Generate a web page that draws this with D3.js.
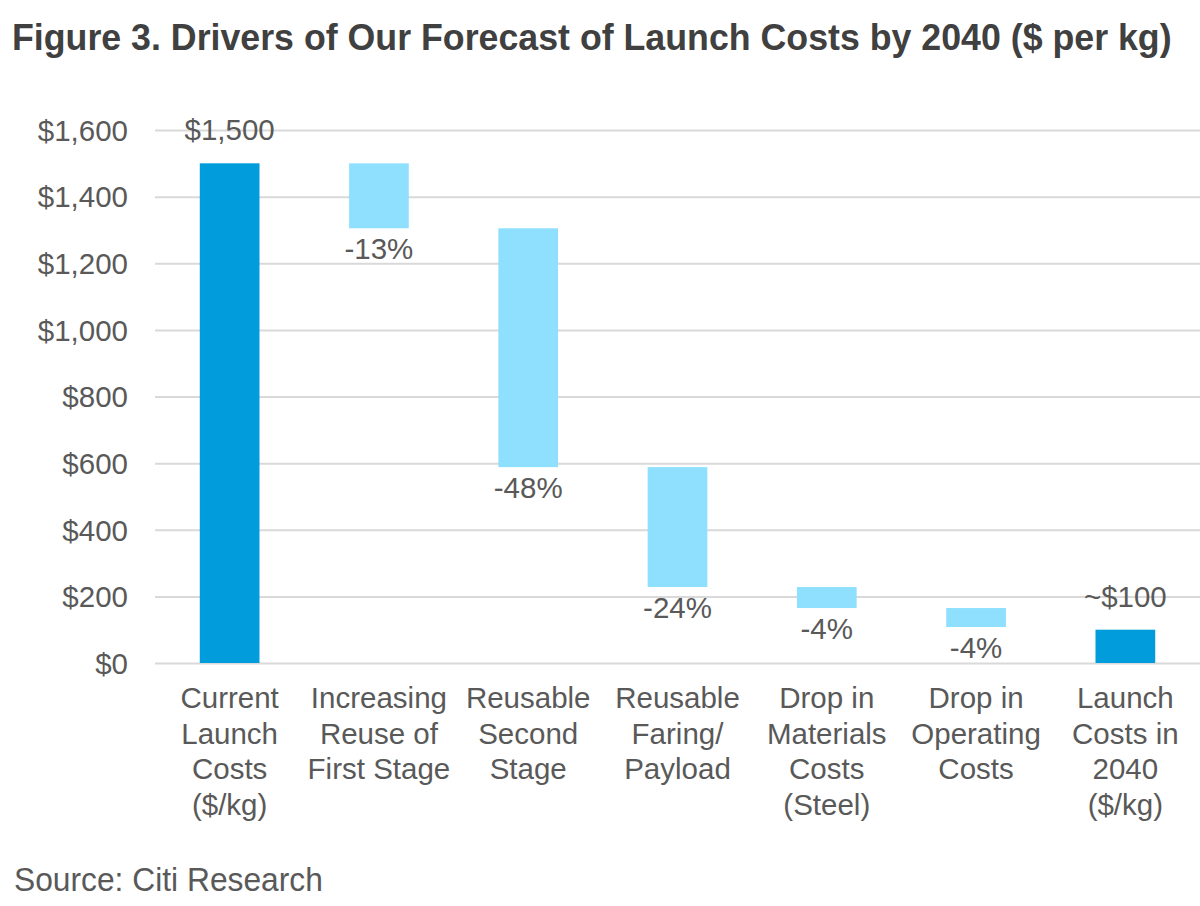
<!DOCTYPE html>
<html>
<head>
<meta charset="utf-8">
<script src="https://cdn.jsdelivr.net/npm/d3@7"></script>
<style>
  html, body { margin: 0; padding: 0; background: #fff; }
  svg { display: block; }
</style>
</head>
<body>
<svg id="chart" width="1200" height="906"></svg>
<script>
// ---- data ----
const categories = [
  ["Current", "Launch", "Costs", "($/kg)"],
  ["Increasing", "Reuse of", "First Stage"],
  ["Reusable", "Second", "Stage"],
  ["Reusable", "Faring/", "Payload"],
  ["Drop in", "Materials", "Costs", "(Steel)"],
  ["Drop in", "Operating", "Costs"],
  ["Launch", "Costs in", "2040", "($/kg)"]
];
const barHigh = [1500, 1500, 1305, 588, 228, 165, 100];
const barLow  = [0, 1305, 588, 228, 165, 108, 0];
const barType = ["total", "delta", "delta", "delta", "delta", "delta", "total"];
const barLabels = ["$1,500", "-13%", "-48%", "-24%", "-4%", "-4%", "~$100"];
const yTicks = [0, 200, 400, 600, 800, 1000, 1200, 1400, 1600];
const titleText = "Figure 3. Drivers of Our Forecast of Launch Costs by 2040 ($ per kg)";
const sourceText = "Source: Citi Research";

// ---- layout ----
const svg = d3.select("#chart");
const plot = { left: 155, right: 1200, top: 130, bottom: 663 };
const textColor = "#595959";
const fontMain = "Liberation Sans, Arial, sans-serif";
const fs = 29.5;

const idx = categories.map((d, i) => i);
const x = d3.scaleBand().domain(idx).range([plot.left, plot.right])
  .paddingInner(0.6).paddingOuter(0.3);
const y = d3.scaleLinear().domain([0, 1600]).range([plot.bottom, plot.top]);

// condensed text via horizontal scaling to a target width
function narrowText(str, x0, y0, size, weight, color, targetW) {
  const g = svg.append("g");
  const t = g.append("text")
    .attr("font-family", fontMain).attr("font-weight", weight)
    .attr("font-size", size).attr("fill", color).text(str);
  const w = t.node().getComputedTextLength();
  const s = Math.min(1, targetW / w);
  g.attr("transform", `translate(${x0},${y0}) scale(${s},1)`);
  return g;
}

// title
narrowText(titleText, 12, 50, 36, "bold", "#404040", 1160);

// gridlines + y axis labels
const yAxis = d3.axisLeft(y).tickValues(yTicks)
  .tickSize(-(plot.right - plot.left))
  .tickFormat(d => "$" + d3.format(",")(d));
const gy = svg.append("g").attr("transform", `translate(${plot.left},0)`).call(yAxis);
gy.select(".domain").remove();
gy.selectAll(".tick line").attr("stroke", "#d9d9d9").attr("stroke-width", 2);
gy.selectAll(".tick text")
  .attr("x", -27).attr("dy", "0.35em")
  .attr("font-family", fontMain).attr("font-size", fs).attr("fill", textColor);

// bars
svg.append("g").selectAll("rect").data(idx).join("rect")
  .attr("x", i => x(i))
  .attr("width", x.bandwidth())
  .attr("y", i => y(barHigh[i]))
  .attr("height", i => y(barLow[i]) - y(barHigh[i]))
  .attr("fill", i => barType[i] === "total" ? "#009cdb" : "#8fe0ff");

// bar labels
svg.append("g").selectAll("text").data(idx).join("text")
  .attr("x", i => x(i) + x.bandwidth() / 2)
  .attr("y", i => barType[i] === "total" ? y(barHigh[i]) - 23 : y(barLow[i]) + 31)
  .attr("text-anchor", "middle")
  .attr("font-family", fontMain).attr("font-size", fs).attr("fill", textColor)
  .text(i => barLabels[i]);

// category labels
const gx = svg.append("g");
idx.forEach(i => {
  const t = gx.append("text")
    .attr("x", x(i) + x.bandwidth() / 2)
    .attr("y", 708)
    .attr("text-anchor", "middle")
    .attr("font-family", fontMain).attr("font-size", fs).attr("fill", textColor);
  categories[i].forEach((line, k) => {
    t.append("tspan").attr("x", x(i) + x.bandwidth() / 2)
      .attr("dy", k === 0 ? 0 : 35.5).text(line);
  });
});

// source
narrowText(sourceText, 14, 891, 34, "normal", textColor, 309);
</script>
</body>
</html>
